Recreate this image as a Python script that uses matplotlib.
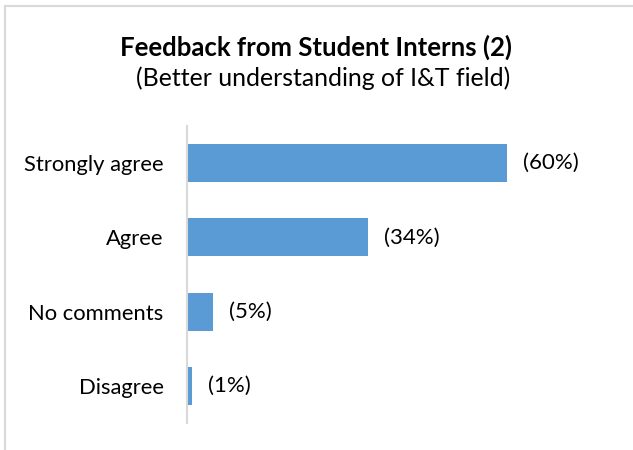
import matplotlib
matplotlib.use("Agg")
import matplotlib.pyplot as plt
from matplotlib.patches import Rectangle

categories = ["Strongly agree", "Agree", "No comments", "Disagree"]
values = [60, 34, 5, 1]
labels = ["(60%)", "(34%)", "(5%)", "(1%)"]
title = "Feedback from Student Interns (2)"
subtitle = "(Better understanding of I&T field)"

plt.rcParams['font.family'] = ['Lato', 'DejaVu Sans']

W, H = 633, 450
fig = plt.figure(figsize=(W / 100, H / 100), dpi=100)
fig.patch.set_facecolor("white")

# outer chart border (extends past right/bottom edges)
fig.patches.append(Rectangle((5 / W, -0.1), 1.2, 1 - 6 / H + 0.1,
                             transform=fig.transFigure, fill=False,
                             edgecolor="#d9d9d9", linewidth=1.5))

ax = fig.add_axes([186.5 / W, 1 - 423 / H, (560 - 186.5) / W, (423 - 126) / H])
ypos = list(range(len(categories)))
ax.barh(ypos, values, height=0.51, color="#5B9BD5")
ax.set_xlim(0, 70)
ax.set_ylim(len(categories) - 0.5, -0.5)
ax.set_yticks(ypos)
ax.set_yticklabels(categories, fontsize=15.8, color="#000000")
ax.tick_params(axis="y", length=0, pad=16.5)
ax.set_xticks([])
for s in ["top", "right", "bottom"]:
    ax.spines[s].set_visible(False)
ax.spines["left"].set_color("#d9d9d9")
ax.spines["left"].set_linewidth(1.5)

for y, v, lab in zip(ypos, values, labels):
    ax.annotate(lab, (v, y), xytext=(11.5, 0), textcoords="offset points",
                va="center", ha="left", fontsize=16, color="#000000")

fig.text(316 / W, 1 - 47 / H, title, ha="center", va="center",
         fontsize=18.5, fontweight="bold", color="#000000")
fig.text(323 / W, 1 - 78 / H, subtitle, ha="center", va="center",
         fontsize=17.9, color="#000000")

fig.savefig("out.png", dpi=100, facecolor="white")
